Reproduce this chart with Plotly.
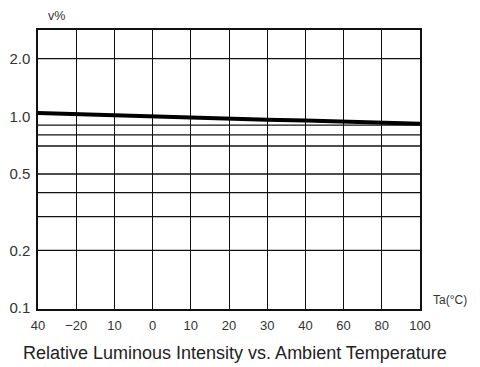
import plotly.graph_objects as go

# Data
x_labels = ["40", "−20", "10", "0", "10", "20", "30", "40", "60", "80", "100"]
x_pos = list(range(len(x_labels)))
rel_intensity = [1.04, 1.025, 1.01, 0.995, 0.98, 0.97, 0.96, 0.95, 0.94, 0.93, 0.915]
y_tick_vals = [0.1, 0.2, 0.5, 1.0, 2.0]
y_tick_text = ["0.1", "0.2", "0.5", "1.0", "2.0"]
y_grid_vals = [0.2, 0.3, 0.4, 0.5, 0.7, 0.8, 0.9, 2.0]

fig = go.Figure()
fig.add_trace(go.Scatter(x=x_pos, y=rel_intensity, mode="lines",
                         line=dict(color="black", width=4), showlegend=False))

for gv in y_grid_vals:
    fig.add_shape(type="line", xref="x", yref="y", x0=0, x1=10, y0=gv, y1=gv,
                  line=dict(color="#111", width=1.3), layer="below")

fig.update_layout(
    width=480, height=367,
    margin=dict(l=38, r=60, t=30, b=58),
    paper_bgcolor="white", plot_bgcolor="white",
    font=dict(family="Liberation Sans, Arial, sans-serif", color="#333", size=12),
    xaxis=dict(range=[0, 10], tickmode="array", tickvals=x_pos, ticktext=x_labels,
               showgrid=True, gridcolor="#111", gridwidth=1.3, zeroline=False,
               showline=True, linecolor="#111", linewidth=1.5, mirror=True,
               automargin=False,
               ticks="", ticklabelstandoff=4, tickfont=dict(size=13, color="#333")),
    yaxis=dict(type="log", range=[-1.005, 0.45], tickmode="array", tickvals=y_tick_vals,
               ticktext=y_tick_text, showgrid=False, zeroline=False,
               showline=True, linecolor="#111", linewidth=1.5, mirror=True,
               automargin=False,
               ticks="", ticklabelstandoff=3, tickfont=dict(size=15, color="#333")),
    annotations=[
        dict(text="v%", xref="paper", yref="paper", x=0.02, y=1.0, yshift=14,
             xanchor="left", yanchor="middle", showarrow=False,
             font=dict(size=12.5, color="#333")),
        dict(text="Ta(°C)", xref="paper", yref="paper", x=1.0, y=0.0, xshift=11, yshift=9,
             xanchor="left", yanchor="middle", showarrow=False,
             font=dict(size=12, color="#333")),
        dict(text="Relative Luminous Intensity vs. Ambient Temperature", xref="paper",
             yref="paper", x=0.517, y=0.0, yshift=-44, xanchor="center", yanchor="middle",
             showarrow=False, font=dict(size=18, color="#222")),
    ],
)

fig.write_html("out.html")
